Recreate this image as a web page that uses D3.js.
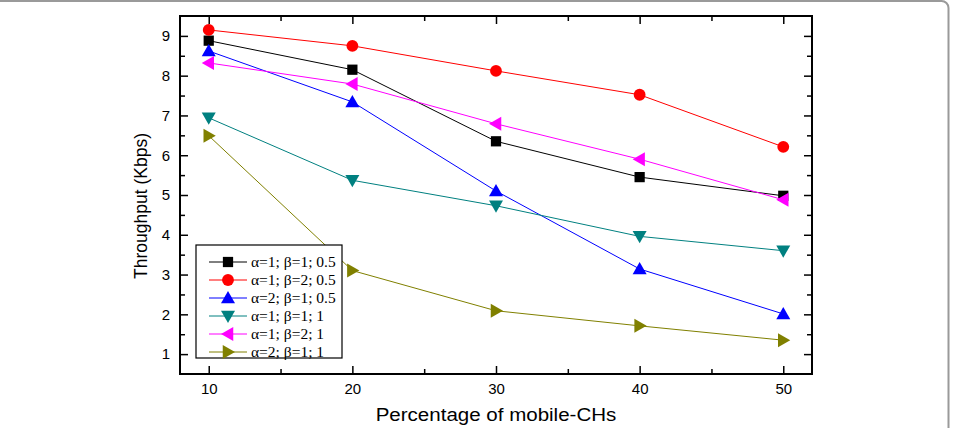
<!DOCTYPE html>
<html>
<head>
<meta charset="utf-8">
<script src="https://cdn.jsdelivr.net/npm/d3@7"></script>
<style>
  body { margin: 0; background: #fff; }
  svg { display: block; }
</style>
</head>
<body>
<div id="chart"></div>
<script>
// data
const xValues = [10, 20, 30, 40, 50];
const xTicks = [10, 20, 30, 40, 50];
const yTicks = [1, 2, 3, 4, 5, 6, 7, 8, 9];
const seriesNames = [
  "\u03b1=1; \u03b2=1; 0.5",
  "\u03b1=1; \u03b2=2; 0.5",
  "\u03b1=2; \u03b2=1; 0.5",
  "\u03b1=1; \u03b2=1; 1",
  "\u03b1=1; \u03b2=2; 1",
  "\u03b1=2; \u03b2=1; 1"
];
const s1 = [8.88, 8.15, 6.35, 5.45, 4.98];
const s2 = [9.15, 8.75, 8.12, 7.52, 6.21];
const s3 = [8.62, 7.34, 5.10, 3.14, 2.01];
const s4 = [6.94, 5.37, 4.73, 3.96, 3.60];
const s5 = [8.32, 7.79, 6.79, 5.90, 4.88];
const s6 = [6.49, 3.10, 2.09, 1.71, 1.35];
const seriesValues = [s1, s2, s3, s4, s5, s6];
const colors = ["#000000", "#ff0000", "#0000ff", "#008080", "#ff00ff", "#808000"];
const symbols = ["square", "circle", "up", "down", "left", "right"];

const W = 956, H = 428;
const margin = { top: 16, right: 144, bottom: 54, left: 180 };
const width = W - margin.left - margin.right;
const height = H - margin.top - margin.bottom;

const svg = d3.select("#chart").append("svg")
  .attr("width", W)
  .attr("height", H);

// page frame (top + right edge, rounded corner)
svg.append("rect")
  .attr("x", -20).attr("y", 1)
  .attr("width", 968.5).attr("height", 460)
  .attr("rx", 7)
  .attr("fill", "none")
  .attr("stroke", "#9a9a9a")
  .attr("stroke-width", 2);

const g = svg.append("g")
  .attr("transform", `translate(${margin.left},${margin.top})`);

const x = d3.scaleLinear().domain([8, 52]).range([0, width]);
const y = d3.scaleLinear().domain([0.5, 9.5]).range([height, 0]);

const minorX = d3.range(15, 50, 10);
const minorY = d3.range(1.5, 9.5, 1);

// axes with inward ticks on all four sides
g.append("g").attr("transform", `translate(0,${height})`)
  .call(d3.axisBottom(x).tickValues(xTicks).tickSize(-8).tickPadding(9).tickFormat(d3.format("d")));
g.append("g").attr("transform", `translate(0,${height})`)
  .call(d3.axisBottom(x).tickValues(minorX).tickSize(-5).tickFormat(""));
g.append("g")
  .call(d3.axisTop(x).tickValues(xTicks).tickSize(-8).tickFormat(""));
g.append("g")
  .call(d3.axisTop(x).tickValues(minorX).tickSize(-5).tickFormat(""));
g.append("g")
  .call(d3.axisLeft(y).tickValues(yTicks).tickSize(-8).tickPadding(10).tickFormat(d3.format("d")));
g.append("g")
  .call(d3.axisLeft(y).tickValues(minorY).tickSize(-5).tickFormat(""));
g.append("g").attr("transform", `translate(${width},0)`)
  .call(d3.axisRight(y).tickValues(yTicks).tickSize(-8).tickFormat(""));
g.append("g").attr("transform", `translate(${width},0)`)
  .call(d3.axisRight(y).tickValues(minorY).tickSize(-5).tickFormat(""));

g.selectAll(".domain").remove();
g.selectAll(".tick line").attr("stroke", "#000").attr("stroke-width", 1.5);
g.selectAll(".tick text")
  .attr("fill", "#000")
  .style("font-family", "Liberation Sans, Arial, sans-serif")
  .style("font-size", "15px");

g.append("rect")
  .attr("width", width).attr("height", height)
  .attr("fill", "none").attr("stroke", "#000").attr("stroke-width", 2);

// marker shapes
function markerPath(kind) {
  const t = 7;
  switch (kind) {
    case "square": return d3.symbol(d3.symbolSquare, 105)();
    case "circle": return d3.symbol(d3.symbolCircle, 110)();
    case "up": return `M0,${-t}L${t},${t * 0.75}L${-t},${t * 0.75}Z`;
    case "down": return `M0,${t}L${t},${-t * 0.75}L${-t},${-t * 0.75}Z`;
    case "left": return `M${-t},0L${t * 0.75},${-t}L${t * 0.75},${t}Z`;
    case "right": return `M${t},0L${-t * 0.75},${-t}L${-t * 0.75},${t}Z`;
  }
}

const line = d3.line()
  .x((d, i) => x(xValues[i]))
  .y(d => y(d));

seriesValues.forEach((vals, k) => {
  g.append("path")
    .datum(vals)
    .attr("fill", "none")
    .attr("stroke", colors[k])
    .attr("stroke-width", 1)
    .attr("d", line);

  g.selectAll(".m" + k)
    .data(vals)
    .enter()
    .append("path")
    .attr("class", "m" + k)
    .attr("transform", (d, i) => `translate(${x(xValues[i])},${y(d)})`)
    .attr("d", markerPath(symbols[k]))
    .attr("fill", colors[k]);
});

// legend
const legend = g.append("g").attr("transform", "translate(16,229)");
legend.append("rect")
  .attr("width", 146).attr("height", 113)
  .attr("fill", "#fff").attr("stroke", "#000").attr("stroke-width", 1.2);

seriesNames.forEach((name, k) => {
  const row = legend.append("g").attr("transform", `translate(0,${17 + k * 18})`);
  row.append("line")
    .attr("x1", 13).attr("x2", 51)
    .attr("stroke", colors[k]).attr("stroke-width", 1);
  row.append("path")
    .attr("transform", "translate(32,0)")
    .attr("d", markerPath(symbols[k]))
    .attr("fill", colors[k]);
  row.append("text")
    .attr("x", 55).attr("y", 5)
    .style("font-family", "Liberation Serif, Times New Roman, serif")
    .style("font-size", "15.5px")
    .text(name);
});

// axis titles
svg.append("text")
  .attr("transform", `translate(${margin.left + width / 2},421) scale(1.11,1)`)
  .attr("text-anchor", "middle")
  .style("font-family", "Liberation Sans, Arial, sans-serif")
  .style("font-size", "18.5px")
  .text("Percentage of mobile-CHs");

svg.append("text")
  .attr("transform", "rotate(-90)")
  .attr("x", -206)
  .attr("y", 147)
  .attr("text-anchor", "middle")
  .style("font-family", "Liberation Sans, Arial, sans-serif")
  .style("font-size", "17.5px")
  .text("Throughput (Kbps)");
</script>
</body>
</html>
